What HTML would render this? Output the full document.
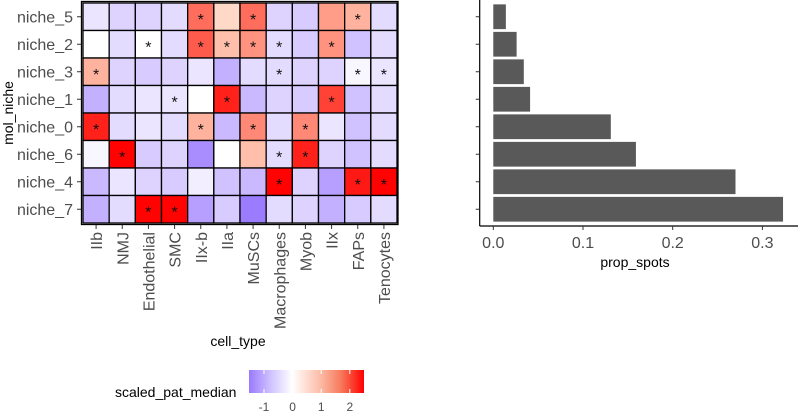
<!DOCTYPE html>
<html><head><meta charset="utf-8"><style>
html,body{margin:0;padding:0;background:#fff}
svg{display:block;font-family:"Liberation Sans",Arial,sans-serif}
</style></head><body>
<svg id="c" width="798" height="419" xmlns="http://www.w3.org/2000/svg">
<defs><linearGradient id="lg" x1="0" x2="1" y1="0" y2="0">
<stop offset="0" stop-color="#9a7aff"/><stop offset="0.2" stop-color="#d2c6ff"/><stop offset="0.375" stop-color="#ffffff"/><stop offset="0.6" stop-color="#fcc2ae"/><stop offset="0.8" stop-color="#f77a5c"/><stop offset="1" stop-color="#ff0000"/>
</linearGradient></defs>
<g id="heat"></g>
<g id="bars"></g>
<text x="13" y="113" font-size="14" text-anchor="middle" transform="rotate(-90 13 113)" fill="#000">mol_niche</text>
<text x="238" y="346" font-size="14" text-anchor="middle" fill="#000">cell_type</text>
<text x="635" y="267" font-size="14" text-anchor="middle" fill="#000">prop_spots</text>
<g>
<text x="115" y="397" font-size="14" fill="#000">scaled_pat_median</text>
<rect x="249" y="370" width="115" height="23" fill="url(#lg)"/>
<g id="legtick"></g>
</g>
</svg>
<script>
const niches=["niche_5","niche_2","niche_3","niche_1","niche_0","niche_6","niche_4","niche_7"];
const cellTypes=["IIb","NMJ","Endothelial","SMC","IIx-b","IIa","MuSCs","Macrophages","Myob","IIx","FAPs","Tenocytes"];
const values=[
[-0.3,-0.5,-0.5,-0.4,1.2,0.2,1.2,-0.5,-0.6,0.7,0.5,-0.4],
[0,-0.4,0,-0.4,1.4,0.4,0.8,-0.4,-0.6,0.8,-0.7,-0.4],
[0.5,-0.5,-0.6,-0.5,-0.3,-0.9,-0.4,-0.4,-0.5,-0.5,-0.1,-0.3],
[-0.9,-0.4,-0.3,-0.3,0,2.1,-0.8,-0.5,-0.6,1.7,-0.7,-0.4],
[2.1,-0.4,-0.3,-0.4,0.5,-0.8,0.9,-0.4,0.9,-0.3,-0.7,-0.4],
[-0.1,2.5,-0.6,-0.5,-1.3,0,0.4,-0.4,2.1,-0.5,-0.7,-0.4],
[-0.8,-0.3,-0.5,-0.6,-0.2,-0.7,-0.8,2.5,-0.5,-1.1,2.2,2.5],
[-0.9,-0.4,2.5,2.5,-1.1,-0.6,-1.5,-0.4,-0.5,-0.9,-0.6,-0.4]];
const signif=[
[0,0,0,0,1,0,1,0,0,0,1,0],
[0,0,1,0,1,1,1,1,0,1,0,0],
[1,0,0,0,0,0,0,1,0,0,1,1],
[0,0,0,1,0,1,0,0,0,1,0,0],
[1,0,0,0,1,0,1,0,1,0,0,0],
[0,1,0,0,0,0,0,1,1,0,0,0],
[0,0,0,0,0,0,0,1,0,0,1,1],
[0,0,1,1,0,0,0,0,0,0,0,0]];
const propSpots=[0.014,0.026,0.034,0.041,0.131,0.159,0.270,0.323];
const barTicks=[0,0.1,0.2,0.3];
const barTickLabels=["0.0","0.1","0.2","0.3"];
const legTicks=[-1,0,1,2];

const NS="http://www.w3.org/2000/svg";
function mk(t,a,p){const e=document.createElementNS(NS,t);for(const k in a)e.setAttribute(k,a[k]);p.appendChild(e);return e;}
const HX0=83,HX1=397,HY0=3,HY1=223;
const cw=(HX1-HX0)/cellTypes.length, rh=(HY1-HY0)/niches.length;
const xc=i=>HX0+cw*i, yr=j=>HY0+rh*j;
function col(v){
  if(v<0){
    const t=Math.min(1,-v/1.52), lo=[154,122,255];
    return `rgb(${[0,1,2].map(k=>Math.round(255+(lo[k]-255)*t))})`;
  }
  const t=Math.min(1,v/2.52);
  const g=Math.round(255*(1-Math.pow(t,0.75)));
  const b=Math.round(255*(1-Math.pow(t,0.6)));
  return `rgb(255,${Math.max(0,g)},${Math.max(0,b)})`;
}
const heat=document.getElementById('heat');
niches.forEach((n,j)=>{
  cellTypes.forEach((c,i)=>{
    const r=mk('rect',{x:xc(i),y:yr(j),width:cw,height:rh,fill:col(values[j][i]),stroke:'#000','stroke-width':1.3},heat);
    
    
    if(signif[j][i]){
      const s=mk('text',{x:xc(i)+cw/2,y:yr(j)+rh/2+8,'font-size':16,'text-anchor':'middle',fill:'#111'},heat);
      s.textContent='*';
      
      
    }
  });
  mk('line',{x1:77,x2:81,y1:yr(j)+rh/2,y2:yr(j)+rh/2,stroke:'#333'},heat);
  const l=mk('text',{x:73,y:yr(j)+rh/2+5.5,'font-size':16,'text-anchor':'end',fill:'#4d4d4d'},heat);
  l.textContent=n;
  
  
});
mk('rect',{x:81.5,y:1.5,width:316.5,height:223,fill:'none',stroke:'#000','stroke-width':1.3},heat);
cellTypes.forEach((c,i)=>{
  const x=xc(i)+cw/2;
  mk('line',{x1:x,x2:x,y1:225,y2:229,stroke:'#333'},heat);
  const l=mk('text',{x:x+6,y:232,'font-size':16,'text-anchor':'end',fill:'#4d4d4d',transform:`rotate(-90 ${x+6} 232)`},heat);
  l.textContent=c;
  
  
});
const bars=document.getElementById('bars');
const BX0=493.3, bpx=897;
const bx=v=>BX0+v*bpx;
mk('line',{x1:479.7,x2:479.7,y1:0,y2:226,stroke:'#000','stroke-width':1.2},bars);
mk('line',{x1:479.7,x2:798,y1:226,y2:226,stroke:'#000','stroke-width':1.2},bars);
propSpots.forEach((v,j)=>{
  const cy=yr(j)+rh/2;
  const b=mk('rect',{x:bx(0),y:cy-rh*0.45,width:bx(v)-bx(0),height:rh*0.9,fill:'#595959'},bars);
  
  
  mk('line',{x1:475.7,x2:479.7,y1:cy,y2:cy,stroke:'#333'},bars);
});
barTicks.forEach((t,i)=>{
  mk('line',{x1:bx(t),x2:bx(t),y1:226,y2:230,stroke:'#333'},bars);
  const l=mk('text',{x:bx(t),y:248,'font-size':16,'text-anchor':'middle',fill:'#4d4d4d'},bars);
  l.textContent=barTickLabels[i];
  
  
});
const lg=document.getElementById('legtick');
const lx=v=>264+(v+1)*28.6;
legTicks.forEach(t=>{
  mk('line',{x1:lx(t),x2:lx(t),y1:370,y2:374,stroke:'#fff'},lg);
  mk('line',{x1:lx(t),x2:lx(t),y1:389,y2:393,stroke:'#fff'},lg);
  const l=mk('text',{x:lx(t),y:411,'font-size':12,'text-anchor':'middle',fill:'#4d4d4d'},lg);
  l.textContent=t<0?'-'+(-t):String(t);
  
  
});
</script>
</body></html>
